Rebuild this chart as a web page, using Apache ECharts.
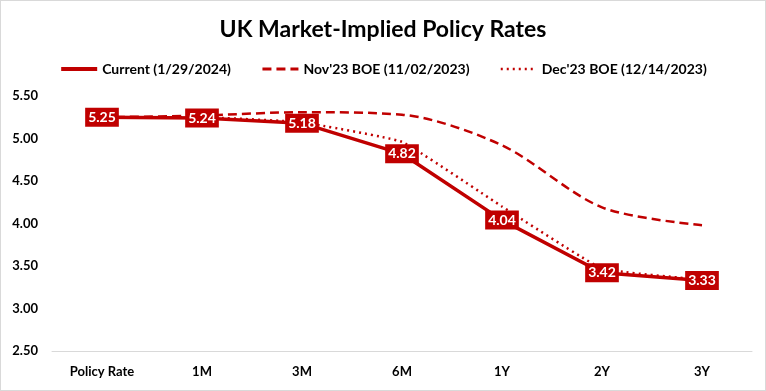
<!DOCTYPE html>
<html><head><meta charset="utf-8">
<script src="https://cdn.jsdelivr.net/npm/echarts@6/dist/echarts.min.js"></script>
<style>
html,body{margin:0;padding:0;background:#fff;}
#c{width:764px;height:389px;border:1px solid #d9d9d9;}
</style></head>
<body><div id="c"></div>
<script>
const categories = ['Policy Rate','1M','3M','6M','1Y','2Y','3Y'];
const currentVals = [5.25, 5.24, 5.18, 4.82, 4.04, 3.42, 3.33];
const novVals = [5.25, 5.27, 5.31, 5.28, 4.92, 4.19, 3.98];
const decVals = [5.25, 5.25, 5.19, 4.96, 4.20, 3.47, 3.34];
const seriesNames = ['Current (1/29/2024)', "Nov'23 BOE (11/02/2023)", "Dec'23 BOE (12/14/2023)"];
const yTicks = {min: 2.5, max: 5.5, interval: 0.5};

const RED = '#c00000';
const FONT = 'Lato, "Open Sans", sans-serif';
const chart = echarts.init(document.getElementById('c'));
chart.setOption({
  animation: false,
  textStyle: {fontFamily: FONT},
  title: {
    text: 'UK Market-Implied Policy Rates',
    left: 'center', top: 12,
    textStyle: {fontFamily: FONT, fontWeight: 'bold', fontSize: 23, color: '#000'}
  },
  legend: {
    top: 56, left: 'center',
    itemWidth: 36, itemHeight: 10, itemGap: 30,
    itemStyle: {opacity: 0},
    textStyle: {fontFamily: FONT, fontWeight: 'bold', fontSize: 14, color: '#000'},
    data: [
      {name: seriesNames[0], lineStyle: {width: 4}},
      {name: seriesNames[1], lineStyle: {width: 3}},
      {name: seriesNames[2], lineStyle: {width: 2.5}}
    ]
  },
  grid: {left: 51, right: 13, top: 95, bottom: 39},
  xAxis: {
    type: 'category', data: categories, boundaryGap: true,
    axisLine: {lineStyle: {color: '#d9d9d9', width: 1}},
    axisTick: {show: false},
    axisLabel: {color: '#000', fontWeight: 'bold', fontSize: 13, margin: 14, fontFamily: FONT}
  },
  yAxis: {
    type: 'value', min: yTicks.min, max: yTicks.max, interval: yTicks.interval,
    splitLine: {show: false},
    axisLine: {show: false}, axisTick: {show: false},
    axisLabel: {color: '#000', fontWeight: 'bold', fontSize: 13, margin: 14, fontFamily: FONT,
      formatter: v => v.toFixed(2)}
  },
  series: [
    {
      name: seriesNames[1], type: 'line', data: novVals, smooth: 0.3,
      symbol: 'none', z: 2,
      lineStyle: {color: RED, width: 2.5, type: [9, 5]},
      itemStyle: {color: RED}
    },
    {
      name: seriesNames[2], type: 'line', data: decVals, smooth: 0.1,
      symbol: 'none', z: 2,
      lineStyle: {color: RED, width: 2.5, type: [2, 4]},
      itemStyle: {color: RED}
    },
    {
      name: seriesNames[0], type: 'line', data: currentVals,
      symbol: 'circle', symbolSize: 1, z: 3,
      lineStyle: {color: RED, width: 3.5},
      itemStyle: {color: RED},
      label: {
        show: true, position: 'inside', color: '#fff', fontWeight: 'bold', fontSize: 14,
        fontFamily: FONT, backgroundColor: RED, padding: [3, 3, 2, 3],
        formatter: p => p.value.toFixed(2)
      }
    }
  ]
});
</script></body></html>
